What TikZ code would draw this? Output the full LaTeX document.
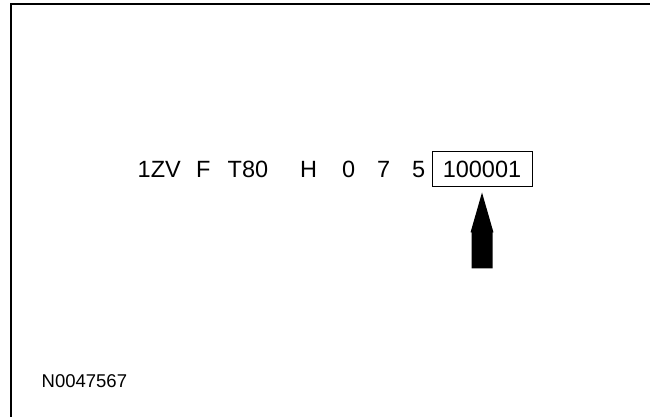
\documentclass[tikz,border=0pt]{standalone}
\usepackage{fontspec}
\setmainfont{Liberation Sans}
\usetikzlibrary{positioning}

\begin{document}
\begin{tikzpicture}[
    x=1pt, y=1pt,
    code/.style={anchor=base west, inner sep=0pt, font=\fontsize{23.5}{28}\selectfont},
    serial/.style={code, anchor=center, draw=black, line width=1pt, minimum width=100pt, minimum height=35pt},
    frame/.style={line width=2pt},
    figid/.style={anchor=base west, inner sep=0pt, font=\fontsize{18.5}{22}\selectfont}
]
\useasboundingbox (0,0) rectangle (650,417);
\clip (0,0) rectangle (650,417);
% Frame
\draw[frame] (11,-10) -- (11,413) -- (660,413);
% VIN groups
\node[code] (wmi) at (137.5,239) {1ZV};
\node[code] (line) at (196,239) {F};
\node[code] (body) at (227.5,239) {T80};
\node[code] (engine) at (300,239) {H};
\node[code] (check) at (342,239) {0};
\node[code] (year) at (377,239) {7};
\node[code] (plant) at (412,239) {5};
\node[serial] (serial) at (482,247.5) {100001};
% Arrow
\coordinate[below=5pt of serial] (tip);
\fill (tip) -- ++(-11.5,-40) -- ++(1,0) -- ++(0,-36) -- ++(21,0) -- ++(0,36) -- ++(1,0) -- cycle;
% Figure number
\node[figid] (figno) at (41.5,29) {N0047567};
\end{tikzpicture}
\end{document}
